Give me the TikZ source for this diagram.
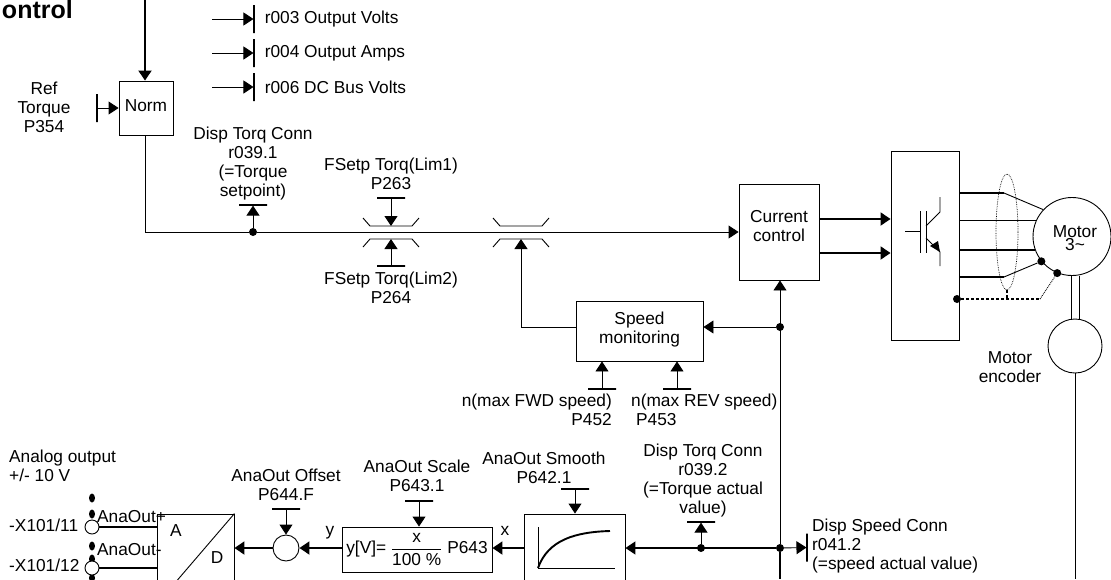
\documentclass[tikz,border=0pt]{standalone}
\usepackage{amsmath}
\usepackage{fontspec}
\setmainfont{Liberation Sans}
\usetikzlibrary{positioning, arrows.meta, calc, shapes.geometric}

\begin{document}
\begin{tikzpicture}[
  x=1pt, y=-1pt,
  font=\fontsize{17.3}{19}\selectfont,
  >={Triangle[length=10pt,width=13pt]},
  block/.style={draw, line width=0.9pt, inner sep=0pt, align=center},
  lbl/.style={inner sep=0pt, align=center},
  lblw/.style={inner sep=0pt, align=left, anchor=west},
  bar/.style={draw, line width=1.2pt, inner sep=0pt, minimum height=0pt, minimum width=28pt},
  vbar/.style={draw, line width=1.1pt, inner sep=0pt, minimum width=0pt, minimum height=28pt},
  dot/.style={circle, fill, inner sep=0pt, minimum size=8pt},
  term/.style={circle, draw, fill=white, line width=0.9pt, inner sep=0pt, minimum size=14pt},
  pin/.style={ellipse, fill, inner sep=0pt, minimum width=6pt, minimum height=9pt},
  flow/.style={->, line width=0.9pt},
  bold/.style={->, line width=1.9pt},
  wire/.style={line width=0.9pt},
  limiter/.pic={
    \draw[line width=0.9pt] (-28,-14) -- (-21,-6) -- (21,-6) -- (28,-14);
    \draw[line width=0.9pt] (-28,15) -- (-21,7) -- (21,7) -- (28,15);
  },
]
\clip (0,0) rectangle (1111,579);

% Title and top displays
\node[font=\fontsize{25}{27}\selectfont\bfseries, inner sep=0pt, anchor=east] (Title) at (73,10) {ontrol};
\coordinate (TopIn) at (145,0);
\node[vbar] (BarVolts) at (254,19) {};
\node[vbar] (BarAmps) at (254,53) {};
\node[vbar] (BarBus) at (254,87) {};
\coordinate (InVolts) at (212,19);
\coordinate (InAmps) at (212,53);
\coordinate (InBus) at (212,87);
\node[lblw, right=10pt of BarVolts] (Volts) {r003 Output Volts};
\node[lblw, right=10pt of BarAmps] (Amps) {r004 Output Amps};
\node[lblw, right=10pt of BarBus] (Bus) {r006 DC Bus Volts};
\draw[flow] (InVolts) -- (BarVolts);
\draw[flow] (InAmps) -- (BarAmps);
\draw[flow] (InBus) -- (BarBus);

% Torque reference
\node[block, minimum width=54pt, minimum height=54pt] (Norm) at (146,108) {Norm\\[-15pt]};
\node[lbl] (RefLbl) at (44,107) {Ref\\Torque\\P354};
\node[vbar] (BarRef) at (97,108) {};
\draw[bold] (TopIn) -- (TopIn |- Norm.north);
\draw[flow] (BarRef) -- (Norm);

% Main row
\node[block, minimum width=80pt, minimum height=96pt] (Current) at (779,232) {Current\\control\\[-6pt]};
\node[block, minimum width=68pt, minimum height=189pt] (Inverter) at (925,245.5) {};
\coordinate (TorqBend) at (145,232);
\node[dot] (TorqTap) at (253,232) {};
\node[bar] (BarTorq) at (253,205) {};
\node[lbl] (TorqLbl) at (253,163.5) {Disp Torq Conn\\r039.1\\(=Torque\\setpoint)};
\draw[wire] (Norm.south -| TorqBend) -- (TorqBend) -- (TorqTap);
\draw[flow] (TorqTap) -- (Current.west |- TorqTap);
\draw[flow] (TorqTap) -- (BarTorq);

% Limiters
\pic (LimA) at (391,232) {limiter};
\pic (LimB) at (521,232) {limiter};
\coordinate (LimAtop) at (391,226);
\coordinate (LimAbot) at (391,239);
\coordinate (LimBbot) at (521,239);
\node[bar] (BarLimA) at (391,198) {};
\node[bar] (BarLimB) at (391,266) {};
\node[lbl] (LimALbl) at (391,174) {FSetp Torq(Lim1)\\P263};
\node[lbl] (LimBLbl) at (391,288) {FSetp Torq(Lim2)\\P264};
\draw[flow] (BarLimA) -- (LimAtop);
\draw[flow] (BarLimB) -- (LimAbot);

% Speed monitoring
\node[block, minimum width=127pt, minimum height=60pt] (Speed) at (639.5,331) {Speed\\monitoring\\[-13pt]};
\node[dot] (SpeedTap) at (780,327) {};
\node[bar] (BarFwd) at (602,389) {};
\node[bar] (BarRev) at (677,389) {};
\node[lbl, anchor=north east, align=right] (FwdLbl) at (612,394) {n(max FWD speed)\\P452};
\node[lbl, anchor=north west, align=left] (RevLbl) at (631,394) {n(max REV speed)\\\hspace{5pt}P453};
\draw[flow] (BarFwd) -- (BarFwd |- Speed.south);
\draw[flow] (BarRev) -- (BarRev |- Speed.south);
\draw[flow] (SpeedTap) -- (SpeedTap -| Speed.east);
\draw[flow] (Speed.west |- SpeedTap) -| (LimBbot);

% Inverter and motor
\node[circle, draw, line width=0.9pt, inner sep=0pt, minimum size=78pt] (Motor) at (1072,236.5) {};
\node[lbl] (MotorLbl) at (1075,238) {Motor\\[-6pt]3\textasciitilde};
\node[circle, draw, line width=0.9pt, inner sep=0pt, minimum size=54pt] (Encoder) at (1075,346) {};
\node[lbl] (EncLbl) at (1010,367) {Motor\\encoder};
\coordinate (BendTop) at (1004,193);
\coordinate (BendBot) at (1004,277);
\coordinate (DashEnd) at (1040,299);
\coordinate (EncEnd) at (1075,579);
\node[dot] (TapA) at (Motor.219) {};
\node[dot] (TapB) at (Motor.248) {};
\node[dot] (Shield) at (957,299) {};
\node[ellipse, draw, densely dotted, line width=0.7pt, inner sep=0pt, minimum width=22pt, minimum height=116pt] (Screen) at (1007,232) {};
\draw[bold] ($(Current.east)+(0,-13)$) -- ($(Inverter.west |- Current.east)+(0,-13)$);
\draw[bold] ($(Current.east)+(0,21)$) -- ($(Inverter.west |- Current.east)+(0,21)$);
\draw[line width=1.9pt] (Inverter.east |- BendTop) -- (BendTop);
\draw[wire] (BendTop) -- (Motor.137);
\draw[wire] (Inverter.east |- Motor.156) -- (Motor.156);
\draw[line width=1.9pt] (Inverter.east |- Motor.200) -- (Motor.200);
\draw[line width=1.9pt] (Inverter.east |- BendBot) -- (BendBot);
\draw[wire] (BendBot) -- (TapA);
\draw[line width=1.2pt, densely dashed] (Shield) -- (DashEnd);
\draw[wire, densely dotted] (DashEnd) -- (TapB);
\draw[line width=1.2pt, densely dashed] (Screen.south) -- (Screen.south |- Shield);
\draw[wire] ($(Motor.south)+(-1,0)$) -- ($(Encoder.north)+(-4,0)$);
\draw[wire] ($(Motor.south)+(7,0)$) -- ($(Encoder.north)+(4,0)$);
\draw[wire] (Encoder.south) -- (EncEnd);

% Transistor symbol
\draw[wire] (905,231) -- (920,231);
\draw[wire] (920,211) -- (920,253);
\draw[wire] (926,211) -- (926,253);
\draw[wire] (926,226) -- (940,212) -- (940,197);
\draw[wire] (926,238) -- (940,252) -- (940,266);
\fill (940,252) -- (930,246) -- (938,241) -- cycle;

% Feedback column
\node[dot] (FiltTap) at (780,548) {};
\node[dot] (TorqAct) at (701,548) {};
\node[block, minimum width=101pt, minimum height=100pt] (Filter) at (574.5,564) {};
\node[vbar] (BarAct) at (807,547.5) {};
\coordinate (ColEnd) at (780,579);
\node[bar] (BarTorqAct) at (701,522) {};
\node[lbl] (ActLbl) at (703,481) {Disp Torq Conn\\r039.2\\(=Torque actual\\value)};
\node[lblw] (ActSpd) at (812,546) {Disp Speed Conn\\r041.2\\(=speed actual value)};
\draw[flow] (FiltTap) -- (Current.south -| FiltTap);
\draw[line width=1.6pt] (FiltTap) -- (ColEnd);
\draw[flow] (FiltTap) -- (BarAct);
\draw[->, line width=1.6pt] (FiltTap) -- (Filter.east |- FiltTap);
\draw[flow] (TorqAct) -- (BarTorqAct);

% Filter curve
\draw[wire] (538,527) -- (538,568) -- (615,568);
\draw[line width=1.9pt] (538,568) .. controls (548,540) and (575,532) .. (610,531);
\node[bar] (BarSmooth) at (575,489) {};
\node[lbl] (SmoothLbl) at (544,468) {AnaOut Smooth\\P642.1};
\draw[flow] (BarSmooth) -- (BarSmooth |- Filter.north);

% Scaling and offset
\node[block, minimum width=150pt, minimum height=45pt] (Scale) at (417,549.5) {y[V]= $\dfrac{\text{x}}{\text{100 \%}}$ P643};
\node[circle, draw, line width=0.9pt, inner sep=0pt, minimum size=26pt] (Sum) at (286,548) {};
\node[block, minimum width=77pt, minimum height=90pt] (Adc) at (195.5,559) {};
\node[lbl] (xLbl) at (505,531) {x};
\node[lbl] (yLbl) at (330,533) {y};
\node[bar] (BarScale) at (419,501) {};
\node[bar] (BarOffset) at (286,509) {};
\node[lbl] (ScaleLbl) at (417,476) {AnaOut Scale\\P643.1};
\node[lbl] (OffsetLbl) at (286,485) {AnaOut Offset\\P644.F};
\draw[bold] (Filter.west |- FiltTap) -- (Scale.east |- FiltTap);
\draw[bold] (Scale.west |- Sum) -- (Sum);
\draw[bold] (Sum) -- (Adc.east |- Sum);
\draw[flow] (BarScale) -- (BarScale |- Scale.north);
\draw[flow] (BarOffset) -- (Sum);

% Converter and terminals
\draw[wire] (Adc.north east) -- (Adc.south west);
\node[lbl] (ALbl) at (176,531) {A};
\node[lbl] (DLbl) at (217,558) {D};
\node[pin] (PinA) at (92,498) {};
\node[pin] (PinB) at (92,514) {};
\node[pin] (PinC) at (92,546) {};
\node[pin] (PinE) at (92,559) {};
\node[pin] (PinD) at (92,578) {};
\node[term] (TermA) at (92,527) {};
\node[term] (TermB) at (92,568) {};
\node[lblw] (AnaPlus) at (97,517) {AnaOut+};
\node[lblw] (AnaMinus) at (97,550) {AnaOut-};
\node[lblw] (AnaHead) at (9,466) {Analog output\\+/- 10 V};
\node[lblw] (XA) at (9,525) {-X101/11};
\node[lblw] (XB) at (9,565) {-X101/12};
\draw[line width=1.7pt] (TermA) -- (Adc.west |- TermA);
\draw[line width=1.7pt] (TermB) -- (Adc.west |- TermB);

\end{tikzpicture}
\end{document}
